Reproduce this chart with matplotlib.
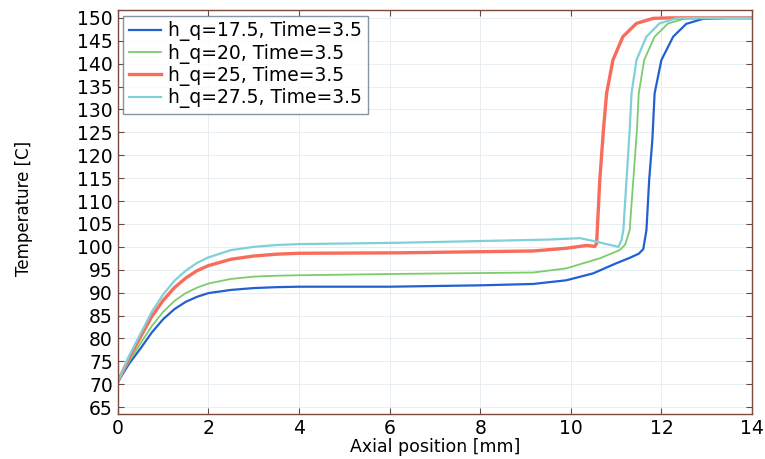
import matplotlib
matplotlib.use("Agg")
import matplotlib.pyplot as plt
import numpy as np

# axial position [mm] / temperature [C]
x_17 = [0, 0.25, 0.5, 0.75, 1, 1.25, 1.5, 1.75, 2, 2.5, 3, 3.5, 4, 6, 8, 9.17,
        9.9, 10.49, 11.0, 11.3, 11.5, 11.6, 11.67, 11.73, 11.8, 11.85, 12.0,
        12.26, 12.55, 12.92, 13.5, 14]
t_17 = [70.5, 74.5, 77.8, 81.3, 84.2, 86.4, 88.0, 89.1, 89.9, 90.6, 91.0, 91.2,
        91.3, 91.3, 91.6, 91.9, 92.7, 94.2, 96.4, 97.6, 98.5, 99.5, 103.7,
        114.6, 123.3, 133.5, 140.8, 145.9, 148.7, 149.8, 150.0, 150.0]

x_20 = [0, 0.25, 0.5, 0.75, 1, 1.25, 1.5, 1.75, 2, 2.5, 3, 3.5, 4, 6.23, 9.17,
        9.9, 10.64, 11.08, 11.2, 11.3, 11.38, 11.46, 11.5, 11.62, 11.85, 12.15,
        12.55, 13, 14]
t_20 = [70.5, 75.0, 78.9, 82.7, 85.8, 88.2, 89.9, 91.1, 92.0, 93.0, 93.5, 93.7,
        93.8, 94.1, 94.4, 95.3, 97.5, 99.3, 100.5, 103.7, 114.6, 125.5, 133.5,
        140.8, 145.9, 148.8, 149.9, 150.0, 150.0]

x_25 = [0, 0.25, 0.5, 0.75, 1, 1.25, 1.5, 1.75, 2, 2.5, 3, 3.5, 4, 6.23, 9.17,
        9.9, 10.35, 10.53, 10.57, 10.64, 10.72, 10.79, 10.93, 11.15, 11.45,
        11.82, 12.2, 14]
t_25 = [70.5, 75.8, 80.3, 84.8, 88.3, 91.1, 93.2, 94.8, 95.9, 97.3, 98.0, 98.4,
        98.6, 98.7, 99.1, 99.7, 100.3, 100.1, 100.8, 114.6, 125.5, 133.5, 140.8,
        145.9, 148.8, 149.9, 150.0, 150.0]

x_27 = [0, 0.25, 0.5, 0.75, 1, 1.25, 1.5, 1.75, 2, 2.5, 3, 3.5, 4, 6.23, 9.54,
        10.2, 10.49, 10.79, 11.05, 11.12, 11.16, 11.23, 11.3, 11.34, 11.45,
        11.67, 11.96, 12.33, 12.8, 14]
t_27 = [70.5, 76.2, 81.0, 85.8, 89.6, 92.6, 94.8, 96.5, 97.7, 99.3, 100.0,
        100.4, 100.6, 100.9, 101.6, 101.9, 101.3, 100.6, 100.0, 101.5, 103.7,
        114.6, 125.5, 133.5, 140.8, 145.9, 148.8, 149.9, 150.0, 150.0]

labels = ["h_q=17.5, Time=3.5", "h_q=20, Time=3.5",
          "h_q=25, Time=3.5", "h_q=27.5, Time=3.5"]
colors = ["#2260d0", "#7ccc6c", "#f86c5c", "#80d0d8"]
widths = [1.6, 1.3, 2.4, 1.6]

x_ticks = np.arange(0, 15, 2)
y_ticks = np.arange(65, 151, 5)

fig = plt.figure(figsize=(7.65, 4.59), dpi=100)
ax = fig.add_axes([0.154, 0.098, 0.829, 0.88])

series = [(x_17, t_17), (x_20, t_20), (x_25, t_25), (x_27, t_27)]
for (xs, ts), lab, c, lw in zip(series, labels, colors, widths):
    ax.plot(xs, ts, color=c, lw=lw, label=lab, solid_joinstyle="round")

ax.set_xlim(0, 14)
ax.set_ylim(63.5, 151.7)
ax.set_xticks(x_ticks)
ax.set_yticks(y_ticks)
ax.grid(True, color="#e6eef4", lw=0.7)
ax.tick_params(direction="in", top=True, right=True, labelsize=13.5,
               length=4, color="#6a4a40")
for sp in ax.spines.values():
    sp.set_color("#7a4a3c")
    sp.set_linewidth(1.0)

ax.set_xlabel("Axial position [mm]", fontsize=12.5, labelpad=0)
ax.set_ylabel("Temperature [C]", fontsize=12)
ax.yaxis.set_label_coords(-0.133, 0.51)

leg = ax.legend(loc="upper left", fontsize=13.5, frameon=True, fancybox=False,
                handlelength=1.7, borderaxespad=0.3, labelspacing=0.12,
                handletextpad=0.4, borderpad=0.3)
leg.get_frame().set_edgecolor("#6a7a8a")
leg.get_frame().set_linewidth(1.0)

fig.savefig("out.png", dpi=100)
